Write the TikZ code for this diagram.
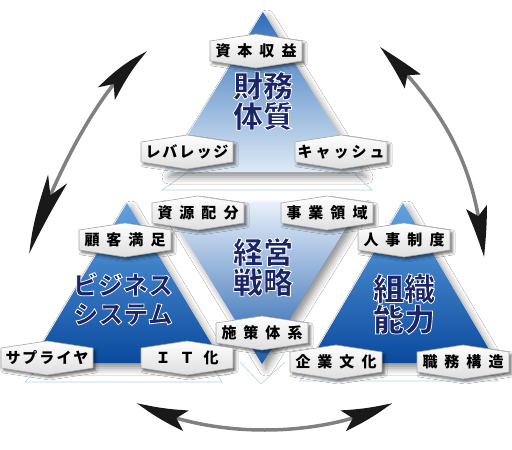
\documentclass[tikz,border=0pt]{standalone}
\usepackage{fontspec}
\newfontfamily\jp{Noto Sans CJK JP}
\usetikzlibrary{arrows.meta,shadows.blur,calc,bending}
\definecolor{navy}{HTML}{1A2466}
\definecolor{reflc}{HTML}{B7CFEA}
\definecolor{topA}{HTML}{2E6DB8}
\definecolor{topB}{HTML}{DDE9F6}
\definecolor{sideA}{HTML}{62A2E0}
\definecolor{sideB}{HTML}{0A4A9E}
\definecolor{midA}{HTML}{E8F0F9}
\definecolor{midM}{HTML}{A6C6E8}
\definecolor{midB}{HTML}{1C5CAD}
\newcommand\outl[1]{\special{pdf:literal direct 2 Tr 0.8 w 1 1 1 RG}#1\special{pdf:literal direct 0 Tr}}
\newcommand\hexlab[3]{%
  \path[hexbox] (#2) ++(-46,-10) -- ++(46,-7) -- ++(46,7) -- ++(0,20) -- ++(-46,7) -- ++(-46,-7) -- cycle;
  \node[lbl] (#1) at (#2) {#3};}
\begin{document}
\begin{tikzpicture}[x=1pt,y=-1pt,
  tri/.style={blur shadow={shadow xshift=4pt,shadow yshift=-5pt,shadow blur radius=7pt,shadow opacity=45}},
  hexbox/.style={top color=white,bottom color=black!13,draw=black!35,line width=0.6pt,
    blur shadow={shadow xshift=2.5pt,shadow yshift=-2.5pt,shadow blur radius=2.5pt,shadow opacity=55}},
  lbl/.style={font=\jp\bfseries\fontsize{15}{15}\selectfont,inner sep=0pt,text=black},
  big/.style={align=center,text=navy,inner sep=0pt},
  cyc/.style={line width=3.5pt,draw=black!50,
    {Stealth[length=50pt,width=21pt,inset=9pt,color=black!90,bend]}-{Stealth[length=50pt,width=21pt,inset=9pt,color=black!90,bend]}},
  refl/.style={draw=reflc,line width=0.6pt}]
\useasboundingbox (0,0) rectangle (512,450);
\fill[white] (0,0) rectangle (512,450);
% faint reflections
\draw[refl] (185,174) -- (162,190) -- (372,190) -- (355,174);
\draw[refl] (38,368) -- (25,382) -- (222,382) -- (214,370);
\draw[refl] (240,362) -- (261,384) -- (285,362);
\draw[refl] (310,368) -- (300,381) -- (498,381) -- (490,370);
% triangles
\path[tri,top color=topA,bottom color=topB] (263,12) -- (362,172) -- (165,172) -- cycle;
\path[tri,top color=midA,middle color=midM,bottom color=midB] (163,202) -- (362,202) -- (262,364) -- cycle;
\path[tri,top color=sideA,bottom color=sideB] (127,203) -- (223,363) -- (31,363) -- cycle;
\path[tri,top color=sideA,bottom color=sideB] (403,203) -- (497,363) -- (309,363) -- cycle;
% big titles
\node[big,font=\jp\bfseries\fontsize{30}{30}\selectfont] (fin) at (263,101) {\outl{財務}\\\outl{体質}};
\node[big,font=\jp\bfseries\fontsize{30}{30}\selectfont] (strat) at (263,267) {\outl{経営}\\\outl{戦略}};
\node[big,font=\jp\bfseries\fontsize{25}{29}\selectfont] (biz) at (123,299) {\outl{ビジネス}\\\outl{システム}};
\node[big,font=\jp\bfseries\fontsize{31}{29}\selectfont] (org) at (404,304) {\outl{組織}\\\outl{能力}};
% labels
\hexlab{cap}{256,51}{資\hspace{7pt}本\hspace{7pt}収\hspace{7pt}益}
\hexlab{lev}{187,152}{レ\hspace{2pt}バ\hspace{2pt}レ\hspace{2pt}ッ\hspace{2pt}ジ}
\hexlab{cash}{341,152}{キ\hspace{3pt}ャ\hspace{3pt}ッ\hspace{3pt}シ\hspace{3pt}ュ}
\hexlab{res}{198,213}{資\hspace{7pt}源\hspace{7pt}配\hspace{7pt}分}
\hexlab{dom}{327,213}{事\hspace{7pt}業\hspace{7pt}領\hspace{7pt}域}
\hexlab{cs}{125,240}{顧\hspace{7pt}客\hspace{7pt}満\hspace{7pt}足}
\hexlab{hr}{404,240}{人\hspace{7pt}事\hspace{7pt}制\hspace{7pt}度}
\hexlab{pol}{262,333}{施\hspace{7pt}策\hspace{7pt}体\hspace{7pt}系}
\hexlab{sup}{47,358}{サ\hspace{2pt}プ\hspace{2pt}ラ\hspace{2pt}イ\hspace{2pt}ヤ}
\hexlab{it}{187,358}{Ｉ\hspace{9pt}Ｔ\hspace{9pt}化}
\hexlab{cul}{336,362}{企\hspace{7pt}業\hspace{7pt}文\hspace{7pt}化}
\hexlab{job}{463,362}{職\hspace{7pt}務\hspace{7pt}構\hspace{7pt}造}
% cycle arrows
\coordinate (la) at (147,52);
\coordinate (lb) at (30,252);
\coordinate (ra) at (380,47);
\coordinate (rb) at (484,257);
\coordinate (ba) at (137,403);
\coordinate (bb) at (392,403);
\draw[cyc] (la) .. controls (94,86) and (39,213) .. (lb);
\draw[cyc] (ra) .. controls (462,125) and (477,189) .. (rb);
\draw[cyc] (ba) .. controls (209,439) and (320,439) .. (bb);
\end{tikzpicture}
\end{document}
